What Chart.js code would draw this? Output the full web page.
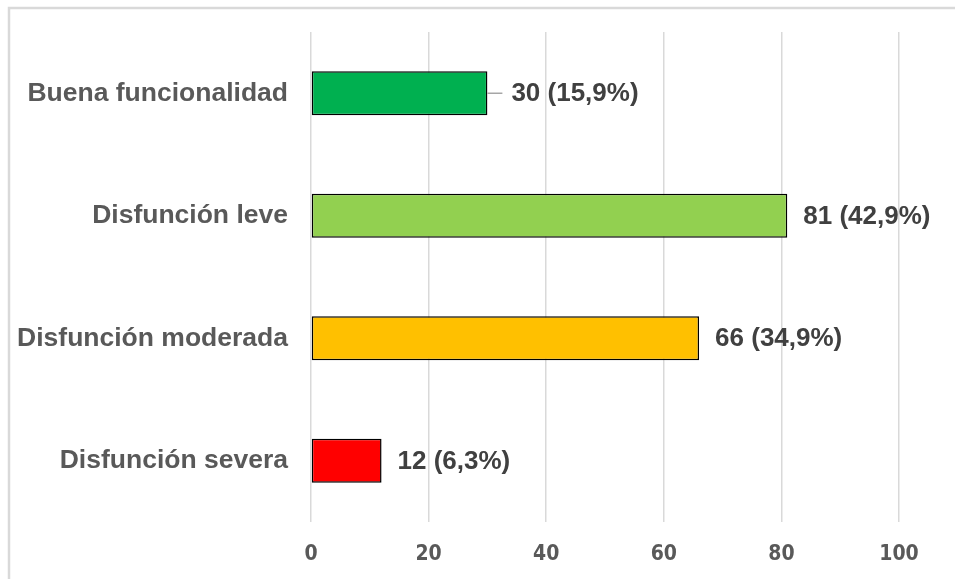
<!DOCTYPE html>
<html>
<head>
    <meta charset="utf-8">
    <title>Funcionalidad</title>
    <script src="https://cdn.jsdelivr.net/npm/chart.js"></script>
    <style>
        body {
            margin: 0;
            background: #ffffff;
        }
        canvas {
            display: block;
        }
    </style>
</head>
<body>
    <canvas id="funcChart" width="955" height="579"></canvas>

    <script>
    const categories = ['Buena funcionalidad', 'Disfunción leve', 'Disfunción moderada', 'Disfunción severa'];
    const counts = [30, 81, 66, 12];
    const percents = ['15,9', '42,9', '34,9', '6,3'];
    const barColors = ['#00B050', '#92D050', '#FFC000', '#FF0000'];
    const xTicks = [0, 20, 40, 60, 80, 100];

    // frame around the chart (only top and left edges show in the picture)
    const framePlugin = {
        id: 'frame',
        beforeDraw(chart) {
            let ctx = chart.ctx;
            ctx.save();
            ctx.strokeStyle = '#d9d9d9';
            ctx.lineWidth = 2.5;
            ctx.beginPath();
            ctx.moveTo(9, 579);
            ctx.lineTo(9, 8);
            ctx.lineTo(955, 8);
            ctx.stroke();
            ctx.restore();
        }
    };

    // value labels to the right of each bar
    const valueLabels = {
        id: 'valueLabels',
        afterDatasetsDraw(chart) {
            let ctx = chart.ctx;
            let meta = chart.getDatasetMeta(0);
            ctx.save();
            ctx.font = 'bold 26px "Liberation Sans", Arial, sans-serif';
            ctx.fillStyle = '#404040';
            ctx.textBaseline = 'middle';
            ctx.textAlign = 'left';
            meta.data.forEach((bar, i) => {
                let text = counts[i] + ' (' + percents[i] + '%)';
                let gap = 16;
                if (i === 0) {
                    // leader line on the first label
                    gap = 24;
                    ctx.strokeStyle = '#a6a6a6';
                    ctx.lineWidth = 1.5;
                    ctx.beginPath();
                    ctx.moveTo(bar.x, bar.y);
                    ctx.lineTo(bar.x + 15, bar.y);
                    ctx.stroke();
                }
                ctx.fillText(text, bar.x + gap, bar.y + 1);
            });
            ctx.restore();
        }
    };

    let ctx = document.getElementById('funcChart').getContext('2d');
    new Chart(ctx, {
        type: 'bar',
        data: {
            labels: categories,
            datasets: [{
                data: counts,
                backgroundColor: barColors,
                borderColor: '#000000',
                borderWidth: 1.5,
                borderSkipped: false,
                barPercentage: 0.9,
                categoryPercentage: 0.4
            }]
        },
        options: {
            indexAxis: 'y',
            responsive: false,
            animation: false,
            layout: {
                padding: { top: 32, right: 56, left: 0, bottom: 0 }
            },
            plugins: {
                legend: { display: false },
                tooltip: { enabled: false }
            },
            scales: {
                x: {
                    min: 0,
                    max: 100,
                    afterBuildTicks: scale => {
                        scale.ticks = xTicks.map(v => ({ value: v }));
                    },
                    afterFit: scale => {
                        scale.height = 57;
                        scale.paddingLeft = 0;
                        scale.paddingRight = 0;
                    },
                    border: { display: false },
                    grid: {
                        color: '#d9d9d9',
                        lineWidth: 1.5,
                        drawTicks: false
                    },
                    ticks: {
                        padding: 20,
                        color: '#595959',
                        font: {
                            family: '"Liberation Sans Narrow", "DejaVu Sans Condensed", sans-serif',
                            size: 21,
                            weight: 'bold'
                        }
                    }
                },
                y: {
                    afterFit: scale => {
                        scale.width = 311;
                        scale.paddingTop = 0;
                        scale.paddingBottom = 0;
                    },
                    border: { display: false },
                    grid: { display: false, drawTicks: false },
                    ticks: {
                        padding: 23,
                        color: '#595959',
                        font: {
                            family: '"Liberation Sans", Arial, sans-serif',
                            size: 26.5,
                            weight: 'bold'
                        }
                    }
                }
            }
        },
        plugins: [framePlugin, valueLabels]
    });
    </script>
</body>
</html>
